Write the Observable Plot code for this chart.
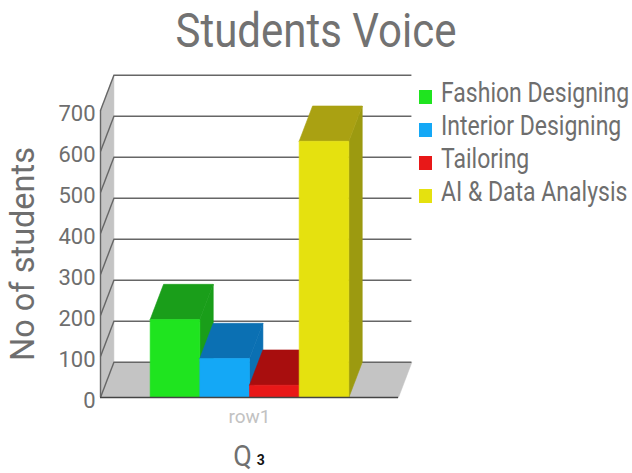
<!DOCTYPE html>
<html>
<head>
<meta charset="utf-8">
<script src="https://cdn.jsdelivr.net/npm/d3@7"></script>
<script src="https://cdn.jsdelivr.net/npm/@observablehq/plot@0.6"></script>
<style>
  html, body { margin: 0; padding: 0; background: #fff; }
  body { font-family: Roboto, "Noto Sans", sans-serif; }
  #wrap { position: relative; width: 632px; height: 473px; overflow: hidden; }
  #title { height: 60px; line-height: 60px; padding-top: 1px; box-sizing: border-box; text-align: center; font-size: 42px; color: #727272; }
  #title span { display: inline-block; transform: scaleY(1.14); }
  #chart { height: 380px; }
  #chart svg { display: block; overflow: visible; }
  #caption { position: absolute; left: 100px; width: 298px; top: 440px; height: 33px; line-height: 33px; text-align: center; }
  #caption .q { display: inline-block; font-size: 27px; color: #707070; transform: scaleY(1.1); }
  #caption .n { font-size: 14px; font-weight: bold; color: #111; margin-left: 5px; }
  #legend { position: absolute; left: 419px; top: 77px; }
  #legend .row { position: relative; height: 33px; line-height: 33px; }
  #legend .sw { position: absolute; left: 0; top: 13px; width: 13px; height: 14px; }
  #legend .tx { display: inline-block; margin-left: 22px; font-size: 23px; color: #6e6e6e; white-space: nowrap; transform: scaleY(1.18); }
</style>
</head>
<body>
<div id="wrap">
  <div id="title"></div>
  <div id="chart"></div>
  <div id="caption"></div>
  <div id="legend"></div>
</div>
<script>
// ---- data ----
const title = "Students Voice";
const categories = ["row1"];
const series = ["Fashion Designing", "Interior Designing", "Tailoring", "AI & Data Analysis"];
const values = [190, 95, 30, 625];
const yTicks = [0, 100, 200, 300, 400, 500, 600, 700];
const yLabel = "No of students";
const captionMain = "Q";
const captionSub = "3";

// ---- styles ----
const frontColors = ["#1fe41f", "#14a8f6", "#e81818", "#e5e10f"];
const topColors   = ["#1a9e1a", "#0b70b3", "#a80e0e", "#aaa112"];
const sideColors  = ["#1a9e1a", "#0b70b3", "#a80e0e", "#9c9a10"];
const wallColor = "#c4c4c4";
const lineColor = "#666666";

// ---- 3D geometry in data units ----
const depthX = 0.27;   // depth along x (band units)
const depthY = 86;     // depth along y (value units)
const xMin = -1, xMax = series.length + 1;
const yMax = yTicks[yTicks.length - 1];

// background polygons: floor and left wall
const bg = [];
function poly(arr, id, pts, fill) {
  pts.concat([pts[0]]).forEach(([x, y]) => arr.push({x, y, id, fill}));
}
poly(bg, "floor", [[xMin, 0], [xMax, 0], [xMax + depthX, depthY], [xMin + depthX, depthY]], wallColor);
poly(bg, "wall", [[xMin, 0], [xMin + depthX, depthY], [xMin + depthX, yMax + depthY], [xMin, yMax]], wallColor);

// bar faces, drawn left to right: side, top, front
const faces = [];
values.forEach((v, i) => {
  const x0 = i, x1 = i + 1;
  poly(faces, i + "-side", [[x1, 0], [x1 + depthX, depthY], [x1 + depthX, v + depthY], [x1, v]], sideColors[i]);
  poly(faces, i + "-top", [[x0, v], [x1, v], [x1 + depthX, v + depthY], [x0 + depthX, v + depthY]], topColors[i]);
  poly(faces, i + "-front", [[x0, 0], [x1, 0], [x1, v], [x0, v]], frontColors[i]);
});

const chart = Plot.plot({
  width: 632,
  height: 380,
  marginLeft: 100,
  marginRight: 234,
  marginTop: 50,
  marginBottom: 43,
  x: {domain: [xMin, xMax]},
  y: {domain: [0, yMax]},
  color: {type: "identity"},
  style: {background: "#fff", fontFamily: "Roboto, 'Noto Sans', sans-serif", overflow: "visible"},
  marks: [
    Plot.line(bg, {x: "x", y: "y", z: "id", fill: "fill", stroke: "fill", strokeWidth: 0.5, curve: "linear"}),
    // back wall grid lines
    Plot.ruleY(yTicks, {y: d => d + depthY, x1: () => xMin + depthX, x2: () => xMax + depthX, stroke: lineColor, strokeWidth: 1.4}),
    // left wall diagonals
    Plot.link(yTicks, {x1: () => xMin, y1: d => d, x2: () => xMin + depthX, y2: d => d + depthY, stroke: lineColor, strokeWidth: 1.4}),
    // front left edge
    Plot.ruleX([xMin], {y1: 0, y2: yMax, stroke: lineColor, strokeWidth: 1.4}),
    // bars
    Plot.line(faces, {x: "x", y: "y", z: "id", fill: "fill", stroke: "fill", strokeWidth: 0.6, curve: "linear"}),
    // front baseline
    Plot.ruleY([0], {x1: xMin, x2: xMax, stroke: "#444", strokeWidth: 1.4}),
    Plot.axisY({ticks: yTicks, tickSize: 0, tickPadding: 5, fontSize: 22, color: "#6e6e6e", label: null, dy: 3}),
    Plot.axisX({ticks: [series.length / 2], tickFormat: () => categories[0], tickSize: 0, tickPadding: 12, fontSize: 19, color: "#c2c2c2", label: null}),
    Plot.text([yLabel], {text: d => d, frameAnchor: "left", textAnchor: "middle", rotate: -90, dx: -67, lineAnchor: "bottom", fontSize: 32.5, fill: "#6e6e6e"})
  ]
});
document.getElementById("chart").appendChild(chart);

document.getElementById("title").innerHTML = `<span>${title}</span>`;
document.getElementById("caption").innerHTML = `<span class="q">${captionMain}</span><span class="n">${captionSub}</span>`;
const legend = document.getElementById("legend");
series.forEach((s, i) => {
  const row = document.createElement("div");
  row.className = "row";
  const sw = document.createElement("div");
  sw.className = "sw";
  sw.style.background = frontColors[i];
  const tx = document.createElement("span");
  tx.className = "tx";
  tx.textContent = s;
  row.appendChild(sw);
  row.appendChild(tx);
  legend.appendChild(row);
});
</script>
</body>
</html>
